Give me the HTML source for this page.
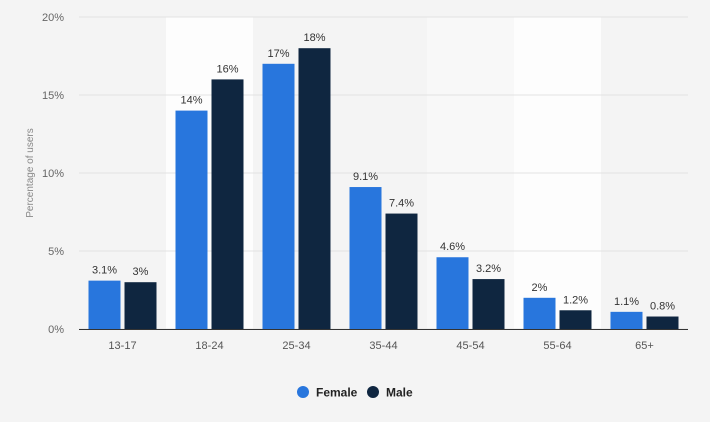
<!DOCTYPE html>
<html><head><meta charset="utf-8"><style>
body{margin:0;background:#f4f4f4;font-family:"Liberation Sans",sans-serif}
</style></head><body>
<svg id="c" width="710" height="417" xmlns="http://www.w3.org/2000/svg"></svg>
<script>
const categories=["13-17","18-24","25-34","35-44","45-54","55-64","65+"];
const female=[3.1,14,17,9.1,4.6,2,1.1];
const male=[3,16,18,7.4,3.2,1.2,0.8];
const femaleLabels=["3.1%","14%","17%","9.1%","4.6%","2%","1.1%"];
const maleLabels=["3%","16%","18%","7.4%","3.2%","1.2%","0.8%"];
const yTicks=[0,5,10,15,20];
const NS="http://www.w3.org/2000/svg";
const svg=document.getElementById('c');
const x0=79,x1=688,y0=329,y1=17,yMax=20;
const bw=(x1-x0)/categories.length;
const y=v=>y0-(v/yMax)*(y0-y1);
const cx=i=>x0+bw*(i+0.5);
function mk(t,a,p){const e=document.createElementNS(NS,t);for(const k in a)e.setAttribute(k,a[k]);(p||svg).appendChild(e);return e;}
categories.forEach((c,i)=>{if(i===1||i===5||i===4){const r=mk('rect',{x:x0+bw*i,y:y1,width:bw,height:y0-y1,fill:i===4?'#f8f8f8':'#fdfdfd'});

}});
yTicks.forEach(t=>{const l=mk('line',{x1:x0,x2:x1,y1:y(t),y2:y(t),stroke:'#e2e2e2','stroke-width':1});


const tx=mk('text',{x:64,y:y(t)+4,'text-anchor':'end','font-size':11,fill:'#666'});tx.textContent=t+'%';

});
const yt=mk('text',{x:33,y:173,'text-anchor':'middle','font-size':10,fill:'#888',transform:'rotate(-90 33 173)'});yt.textContent='Percentage of users';


categories.forEach((c,i)=>{
 const f=mk('rect',{x:cx(i)-34,y:y(female[i]),width:32,height:y0-y(female[i]),fill:'#2876dd'});
 
 
 const m=mk('rect',{x:cx(i)+2,y:y(male[i]),width:32,height:y0-y(male[i]),fill:'#0f2640'});
 
 
 const fl=mk('text',{x:cx(i)-18,y:y(female[i])-7,'text-anchor':'middle','font-size':11,fill:'#333'});fl.textContent=femaleLabels[i];
 
 
 const ml=mk('text',{x:cx(i)+18,y:y(male[i])-7,'text-anchor':'middle','font-size':11,fill:'#333'});ml.textContent=maleLabels[i];
 
 
 const xl=mk('text',{x:cx(i),y:349,'text-anchor':'middle','font-size':11,fill:'#555'});xl.textContent=c;
 
 
});
const ax=mk('line',{x1:x0,x2:x1,y1:y0+0.5,y2:y0+0.5,stroke:'#333','stroke-width':1});


const lg=mk('g',{});


const items=[["Female","#2876dd",303],["Male","#0f2640",373]];
items.forEach(it=>{const g=mk('g',{},lg);


mk('circle',{cx:it[2],cy:392,r:6,fill:it[1]},g);
const t=mk('text',{x:it[2]+13,y:396.5,'font-size':12,'font-weight':'bold',fill:'#222'},g);t.textContent=it[0];});
</script>
</body></html>
